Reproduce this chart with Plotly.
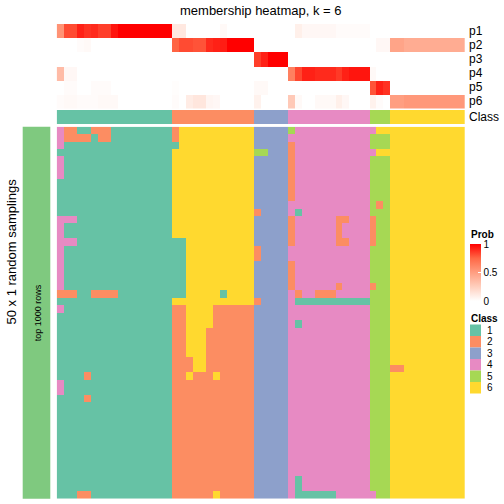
import plotly.graph_objects as go

OFF = 0
FW = FH = 504

# ---------------- data ----------------
class_labels = ["1", "2", "3", "4", "5", "6"]
class_colors = ["#66C2A5", "#FC8D62", "#8DA0CB", "#E78AC3", "#A6D854", "#FFD92F"]
prob_labels = ["p1", "p2", "p3", "p4", "p5", "p6"]
prob_ticks = [0, 0.5, 1]

p1 = [0.55, 0.82, 0.82, 0.92, 0.88, 0.9, 0.85, 0.85, 0.95, 1, 1, 1, 1, 1, 1, 1, 1,
      0.12, 0.12, 0, 0, 0, 0, 0, 0.03, 0, 0, 0, 0,
      0, 0, 0, 0, 0,
      0, 0.08, 0.04, 0.04, 0.04, 0.04, 0.04, 0.02, 0.02, 0.02, 0.02, 0.02,
      0, 0, 0,
      0, 0, 0, 0, 0, 0, 0, 0, 0, 0, 0]
p2 = [0, 0, 0, 0.02, 0.03, 0, 0, 0, 0, 0, 0, 0, 0, 0, 0, 0, 0,
      0.76, 0.82, 0.82, 0.8, 0.8, 0.9, 0.92, 0.93, 1, 1, 1, 1,
      0, 0, 0, 0, 0,
      0, 0, 0, 0, 0, 0, 0, 0, 0, 0, 0, 0,
      0, 0.04, 0.04,
      0.47, 0.47, 0.43, 0.43, 0.43, 0.43, 0.43, 0.43, 0.43, 0.43, 0.43]
p3 = [0, 0, 0, 0, 0, 0, 0, 0, 0, 0, 0, 0, 0, 0, 0, 0, 0,
      0, 0, 0, 0, 0, 0, 0, 0, 0, 0, 0, 0,
      0.85, 0.92, 1, 1, 1,
      0, 0, 0, 0, 0, 0, 0, 0, 0, 0, 0, 0,
      0, 0, 0,
      0, 0, 0, 0, 0, 0, 0, 0, 0, 0, 0]
p4 = [0.35, 0.04, 0.04, 0, 0, 0, 0, 0, 0, 0, 0, 0, 0, 0, 0, 0, 0,
      0, 0, 0, 0, 0, 0, 0, 0, 0, 0, 0, 0,
      0, 0, 0, 0, 0,
      0.64, 0.83, 0.92, 0.92, 0.9, 0.9, 0.9, 0.86, 0.92, 0.95, 0.95, 0.95,
      0.03, 0, 0,
      0, 0, 0, 0, 0, 0, 0, 0, 0, 0, 0]
p5 = [0, 0.02, 0.02, 0, 0, 0.02, 0.02, 0.02, 0, 0, 0, 0, 0, 0, 0, 0, 0,
      0.01, 0, 0, 0, 0, 0, 0, 0, 0, 0, 0, 0,
      0.03, 0.03, 0, 0, 0,
      0, 0, 0, 0, 0, 0, 0, 0, 0, 0, 0, 0,
      0.8, 0.92, 0.88,
      0, 0, 0, 0, 0, 0, 0, 0, 0, 0, 0]
p6 = [0.02, 0.03, 0.03, 0.02, 0.02, 0.02, 0.03, 0.03, 0.03, 0, 0, 0, 0, 0, 0, 0, 0,
      0.02, 0, 0.1, 0.13, 0.13, 0.05, 0.04, 0, 0, 0, 0, 0,
      0.07, 0, 0, 0, 0,
      0.28, 0.03, 0, 0, 0.03, 0.03, 0.03, 0.08, 0.04, 0, 0, 0,
      0.07, 0.02, 0,
      0.5, 0.5, 0.53, 0.53, 0.53, 0.53, 0.53, 0.53, 0.53, 0.53, 0.53]

class_row = "11111111111111111 222222222222 33333 444444444444 555 66666666666"

sampling_rows = [
    "42211222111111111 266666666666 33333 544444444444 466 66666666666",
    "42222122111111111 266666666666 33333 444444444444 555 66666666666",
    "41111111111111111 166666666666 33333 244444444444 555 66666666666",
    "11111111111111111 666666666666 55333 244444444444 466 66666666666",
    "41111111111111111 666666666666 33333 244444444444 555 66666666666",
    "41111111111111111 666666666666 33333 244444444444 555 66666666666",
    "41111111111111111 666666666666 33333 244444444444 555 66666666666",
    "11111111111111111 666666666666 33333 244444444444 555 66666666666",
    "11111111111111111 666666666666 33333 244444444444 555 66666666666",
    "11111111111111111 666666666666 33333 244444444444 555 66666666666",
    "11111111111111111 666666666666 33333 444444444444 525 66666666666",
    "11111111111111111 666666666666 23333 414444444444 555 66666666666",
    "44411111111111111 666666666666 33333 244444422444 255 66666666666",
    "41111111111111111 666666666666 33333 244444424444 255 66666666666",
    "41111111111111111 666666666666 33333 244444424444 255 66666666666",
    "44411111111111111 116666666666 33333 244444422444 255 66666666666",
    "41111111111111111 116666666666 23333 444444444444 555 66666666666",
    "41111111111111111 116666666666 23333 444444444444 555 66666666666",
    "41111111111111111 116666666666 33333 244444444444 555 66666666666",
    "41111111111111111 116666666666 33333 244444444444 555 66666666666",
    "41111111111111111 116666666666 33333 244444444444 555 66666666666",
    "41111111111111111 116666666666 33333 244444424444 255 66666666666",
    "22211222211111111 116666616666 33333 424422244444 555 66666666666",
    "11111111111111111 666666666666 23333 411111111111 555 66666666666",
    "41111111111111111 226666222222 33333 444444444444 555 66666666666",
    "11111111111111111 226666222222 33333 444444444444 555 66666666666",
    "11111111111111111 226666222222 33333 414444444444 555 66666666666",
    "11111111111111111 226662222222 33333 444444444444 555 66666666666",
    "11111111111111111 226662222222 33333 444444444444 555 66666666666",
    "11111111111111111 226662222222 33333 444444444444 555 66666666666",
    "11111111111111111 226662222222 33333 444444444444 555 66666666666",
    "11111111111111111 222662222222 33333 444444444444 555 66666666666",
    "11111111111111111 222662222222 33333 444444444444 555 22666666666",
    "11112111111111111 226222622222 33333 444444444444 555 66666666666",
    "41111111111111111 222222222222 33333 444444444444 555 66666666666",
    "41111111111111111 222222222222 33333 444444444444 555 66666666666",
    "11112111111111111 222222222222 33333 444444444444 555 66666666666",
    "11111111111111111 222222222222 33333 444444444444 555 66666666666",
    "11111111111111111 222222222222 33333 444444444444 555 66666666666",
    "11111111111111111 222222222222 33333 444444444444 555 66666666666",
    "11111111111111111 222222222222 33333 444444444444 555 66666666666",
    "11111111111111111 222222222222 33333 444444444444 555 66666666666",
    "11111111111111111 222222222222 33333 444444444444 555 66666666666",
    "11111111111111111 222222222222 33333 444444444444 555 66666666666",
    "11111111111111111 222222222222 33333 444444444444 555 66666666666",
    "11111111111111111 222222222222 33333 444444444444 555 66666666666",
    "11111111111111111 222222222222 33333 444444444444 555 66666666666",
    "11111111111111111 222222222222 33333 414444444444 555 66666666666",
    "11111111111111111 222222222222 33333 414444444444 555 66666666666",
    "11122111111111111 222222622222 33333 411111144444 455 66666666666",
]

title_text = "membership heatmap, k = 6"
left_title = "50 x 1 random samplings"
row_group_label = "top 1000 rows"
row_group_color = "#7FC97F"

# ---------------- helpers ----------------
def parse(s):
    return [int(c) for c in s.replace(" ", "")]

prob_z = [p1, p2, p3, p4, p5, p6]
class_z = [parse(class_row)]
samp_z = [parse(r) for r in sampling_rows]
ncol = len(class_z[0])

def px_x(x):
    return (x - OFF) / FW

def px_y(y):
    return 1 - (y - OFF) / FH

n = len(class_colors)
disc_scale = []
for i, c in enumerate(class_colors):
    disc_scale.append([i / n, c])
    disc_scale.append([(i + 1) / n, c])

prob_scale = [[0, "#FFFFFF"], [0.25, "#FFCFBE"], [0.5, "#FF9E81"], [0.75, "#FF6846"], [1, "#FF0000"]]

X0, X1 = 56.7, 465.0
xdom = [px_x(X0), px_x(X1)]
FONT = "Liberation Sans, Arial, sans-serif"

fig = go.Figure()
cols = list(range(ncol))

fig.add_trace(go.Heatmap(
    z=prob_z, x=cols, y=list(range(len(prob_z))), zmin=0, zmax=1,
    colorscale=prob_scale, xaxis="x", yaxis="y", hoverinfo="skip",
    showscale=True,
    colorbar=dict(
        x=px_x(470), xanchor="left", y=px_y(244), yanchor="top",
        len=57, lenmode="pixels", thickness=11, thicknessmode="pixels",
        tickvals=prob_ticks, ticktext=[str(t) for t in prob_ticks],
        ticks="inside", ticklen=3, tickcolor="white", outlinewidth=0,
        xpad=0, ypad=0, tickfont=dict(size=10, family=FONT, color="black"),
    ),
))
fig.add_trace(go.Heatmap(
    z=class_z, x=cols, y=[0], zmin=0.5, zmax=n + 0.5,
    colorscale=disc_scale, showscale=False, xaxis="x2", yaxis="y2", hoverinfo="skip",
))
fig.add_trace(go.Heatmap(
    z=samp_z, x=cols, y=list(range(len(samp_z))), zmin=0.5, zmax=n + 0.5,
    colorscale=disc_scale, showscale=False, xaxis="x3", yaxis="y3", hoverinfo="skip",
))

hidden = dict(visible=False, showgrid=False, zeroline=False, fixedrange=True)
fig.update_layout(
    width=FW, height=FH, margin=dict(l=0, r=0, t=0, b=0),
    paper_bgcolor="white", plot_bgcolor="white",
    font=dict(family=FONT, color="black"),
    xaxis=dict(domain=xdom, range=[-0.5, ncol - 0.5], **hidden),
    xaxis2=dict(domain=xdom, range=[-0.5, ncol - 0.5], anchor="y2", **hidden),
    xaxis3=dict(domain=xdom, range=[-0.5, ncol - 0.5], anchor="y3", **hidden),
    yaxis=dict(domain=[px_y(108.5), px_y(24)], range=[len(prob_z) - 0.5, -0.5], **hidden),
    yaxis2=dict(domain=[px_y(124), px_y(110)], range=[0.5, -0.5], anchor="x2", **hidden),
    yaxis3=dict(domain=[px_y(498.7), px_y(126.7)], range=[len(samp_z) - 0.5, -0.5], anchor="x3", **hidden),
    showlegend=False,
)

ann = []
shapes = []
ann.append(dict(text=title_text, x=px_x((X0 + X1) / 2), y=px_y(10), xref="paper", yref="paper",
                showarrow=False, font=dict(size=13), xanchor="center", yanchor="middle"))
row_h = (108.5 - 24) / len(prob_labels)
for i, lab in enumerate(prob_labels):
    ann.append(dict(text=lab, x=px_x(467), y=px_y(24 + row_h * (i + 0.5)), xref="paper", yref="paper",
                    showarrow=False, font=dict(size=12), xanchor="left", yanchor="middle"))
ann.append(dict(text="Class", x=px_x(467), y=px_y(117), xref="paper", yref="paper",
                showarrow=False, font=dict(size=12), xanchor="left", yanchor="middle"))

# left annotations
shapes.append(dict(type="rect", xref="paper", yref="paper", x0=px_x(22.7), x1=px_x(50.3),
                   y0=px_y(498.7), y1=px_y(126.7), fillcolor=row_group_color, line=dict(width=0)))
ann.append(dict(text=row_group_label, x=px_x(37.5), y=px_y(312.7), xref="paper", yref="paper",
                showarrow=False, textangle=-90, font=dict(size=9), xanchor="center", yanchor="middle"))
ann.append(dict(text=left_title, x=px_x(10.5), y=px_y(252), xref="paper", yref="paper",
                showarrow=False, textangle=-90, font=dict(size=13), xanchor="center", yanchor="middle"))

# legends
ann.append(dict(text="<b>Prob</b>", x=px_x(469), y=px_y(234), xref="paper", yref="paper",
                showarrow=False, font=dict(size=10), xanchor="left", yanchor="middle"))
ann.append(dict(text="<b>Class</b>", x=px_x(469), y=px_y(318), xref="paper", yref="paper",
                showarrow=False, font=dict(size=10), xanchor="left", yanchor="middle"))
gh = 11.5
for k, (lab, col) in enumerate(zip(class_labels, class_colors)):
    yt = 324.5 + gh * k
    shapes.append(dict(type="rect", xref="paper", yref="paper", x0=px_x(470), x1=px_x(481),
                       y0=px_y(yt + gh), y1=px_y(yt), fillcolor=col, line=dict(width=0)))
    ann.append(dict(text=lab, x=px_x(485), y=px_y(yt + gh / 2), xref="paper", yref="paper",
                    showarrow=False, font=dict(size=10), xanchor="left", yanchor="middle"))

fig.update_layout(annotations=ann, shapes=shapes)
fig.write_html(
    "out.html",
    config={"displayModeBar": False, "staticPlot": True},
    post_script="document.body.style.margin='0';document.body.style.overflow='hidden';",
)
